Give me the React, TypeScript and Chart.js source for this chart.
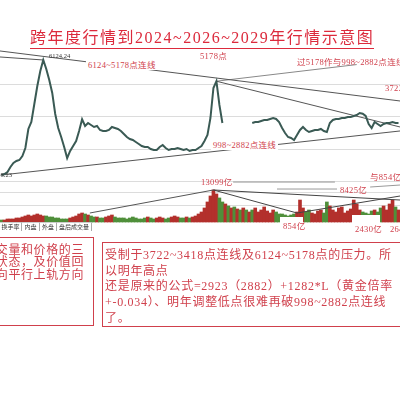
import React, { useEffect, useRef } from 'react';
import { Chart, registerables } from 'chart.js';
Chart.register(...registerables);

// Shanghai composite closes, one per period (null = gap in the picture)
const closes: (number | null)[] = [
  998, 1043, 1132, 1355, 1533, 1622, 1667, 1845, 2202, 3049,
  3361, 4163, 4966, 5634, 6124, 5723, 5233, 4654, 3717, 3093,
  2692, 2246, 1750, 2068, 2291, 2514, 2960, 3478, 3182, 3316,
  3227, 3138, 3182, 3004, 2960, 2960, 3004, 3138, 3093, 3049,
  2960, 2826, 2692, 2603, 2558, 2469, 2380, 2291, 2246, 2246,
  2157, 2113, 2113, 2246, 2335, 2202, 2113, 2157, 2157, 2202,
  2157, 2113, 2157, 2068, 2113, 2113, 2202, 2291, 2514, 2781,
  3539, 4876, 5178, 4119, 3316, null, null, null, null, null,
  null, null, null, null, 3316, 3361, 3361, 3405, 3450, 3450,
  3494, 3539, 3494, 3361, 3093, 2870, 2692, 2647, 2558, 2781,
  3004, 3138, 3004, 2915, 2960, 3004, 3004, 3049, 2960, 2915,
  3316, 3450, 3494, 3494, 3539, 3539, 3584, 3584, 3628, 3673,
  3762, 3731, 3628, 3271, 3093, 3361, 3271, 3182, 3271, 3316,
  3316, 3361, 3316, 3316,
];

// turnover (亿) per period
const volumes: number[] = [
  820, 820, 1230, 1230, 1230, 1640, 1640, 2050, 2460, 2870,
  2460, 2870, 3280, 2870, 2460, 2460, 2050, 2050, 1640, 1640,
  1230, 1230, 1230, 1640, 2050, 2460, 3280, 3690, 3280, 2870,
  2460, 2050, 2050, 1640, 1640, 2050, 2460, 2870, 2050, 1640,
  1640, 1640, 1230, 1640, 2050, 1640, 1230, 1230, 1640, 2050,
  1640, 1230, 1640, 2050, 1640, 1230, 1640, 2050, 2460, 2050,
  1640, 1640, 2050, 1640, 2050, 2460, 3280, 4100, 5740, 8200,
  10660, 13099, 11480, 9840, 8200, 7380, 6560, 5740, 6150, 5330,
  4920, 5740, 4920, 4100, 4920, 5740, 4100, 4920, 6150, 4510,
  3690, 4920, 4100, 3280, 3280, 2870, 2460, 2870, 3280, 4100,
  9000, 5740, 4100, 4920, 3690, 3280, 4510, 4920, 3690, 8200,
  6560, 4920, 4100, 5740, 6150, 3690, 4510, 5330, 9000, 7380,
  4920, 4100, 3690, 3280, 4510, 4920, 4100, 5740, 6560, 4920,
  7380, 9000, 6150, 4920,
];

const periods = closes.map((_, i) => i);
const priceGridLevels = [700, 2150, 3600, 5050];
const volumeGridLevels = [6950, 12270];

// trend lines: [period, value] pairs
const line6124to5178 = [[-0.5, 6526], [133.5, 4297]];
const lineInto6124 = [[-0.5, 6258], [14, 6124]];
const line5178to3731 = [[72, 5178], [133.5, 3138]];
const parallelThrough5178 = [[72, 5178], [119, 5920]];
const line998to2882 = [[0, 998], [133.5, 2960]];
const volLineIntoPeak = [[29.6, 3681], [71, 13099]];
const volLinePeakRight = [[71, 13099], [133.5, 9000]];
const volLinePeakTo854 = [[71, 13099], [99, 3681]];
const volLine854Right = [[99, 3681], [133.5, 10634]];
const volLeader13099 = [[77.6, 16360], [111.7, 16360]];
const volLeader8425 = [[92.3, 13500], [112.4, 13500]];
const volLeader854 = [[123.5, 14316], [133.5, 15134]];
const volLeader2430 = [[122.8, -1227], [125.8, 2863]];

const RED = '#d0404c';
const FONT = '"Liberation Serif", "Noto Sans CJK SC", serif';

const seg = (pts: number[][], axis: string, color = '#555', width = 1) => ({
  type: 'line' as const,
  data: pts.map(([x, y]) => ({ x, y })),
  yAxisID: axis,
  borderColor: color,
  borderWidth: width,
  pointRadius: 0,
  order: 1,
});

function Label(props: { x: number; y: number; size?: number; color?: string; text: string; bg?: boolean; spacing?: number }) {
  const size = props.size ?? 8.5;
  return (
    <div
      style={{
        position: 'absolute',
        left: props.x,
        top: props.y - size / 2 - 1,
        fontSize: size,
        lineHeight: `${size + 2}px`,
        color: props.color ?? RED,
        whiteSpace: 'nowrap',
        fontFamily: FONT,
        letterSpacing: props.spacing ?? 0.3,
        background: props.bg ? '#fff' : 'transparent',
        padding: props.bg ? '0 2px' : 0,
        marginLeft: props.bg ? -2 : 0,
      }}
    >
      {props.text}
    </div>
  );
}

export default function App() {
  const ref = useRef<HTMLCanvasElement | null>(null);
  useEffect(() => {
    if (!ref.current) return;
    const volColors = volumes.map((_, i) => {
      const c = closes[i];
      const p = i > 0 ? closes[i - 1] : null;
      if (c == null || p == null) return i % 2 ? '#b3302c' : '#4f8f3a';
      return c >= p ? '#b3302c' : '#4f8f3a';
    });
    const zeroWidth = (s: any) => {
      s.width = 0;
    };
    const chart = new Chart(ref.current, {
      type: 'bar',
      data: {
        datasets: [
          {
            type: 'line',
            data: periods.map((i) => ({ x: i, y: closes[i] })),
            yAxisID: 'y',
            borderColor: '#3a5a54',
            borderWidth: 2,
            pointRadius: 0,
            spanGaps: false,
            order: 0,
          } as any,
          seg(line6124to5178, 'y', '#555'),
          seg(lineInto6124, 'y', '#555'),
          seg(line5178to3731, 'y', '#555'),
          seg(parallelThrough5178, 'y', '#888'),
          seg(line998to2882, 'y', '#555'),
          seg(volLineIntoPeak, 'yv', '#555'),
          seg(volLinePeakRight, 'yv', '#444'),
          seg(volLinePeakTo854, 'yv', '#444'),
          seg(volLine854Right, 'yv', '#444'),
          seg(volLeader13099, 'yv', '#999'),
          seg(volLeader8425, 'yv', '#999'),
          seg(volLeader854, 'yv', '#999'),
          seg(volLeader2430, 'yv', '#666'),
          {
            type: 'bar',
            data: periods.map((i) => ({ x: i, y: volumes[i] })),
            yAxisID: 'yv',
            backgroundColor: volColors,
            barPercentage: 1,
            categoryPercentage: 1,
            order: 3,
          } as any,
        ],
      },
      options: {
        animation: false,
        responsive: false,
        maintainAspectRatio: false,
        layout: { padding: 0, autoPadding: false },
        plugins: { legend: { display: false }, tooltip: { enabled: false } },
        scales: {
          x: { type: 'linear', min: -0.5, max: 133.5, offset: false, display: false },
          y: {
            min: -9032,
            max: 8798,
            position: 'left',
            ticks: { display: false },
            grid: { color: '#dcdcdc', drawTicks: false },
            border: { display: false },
            afterFit: zeroWidth,
            afterBuildTicks: (s: any) => {
              s.ticks = priceGridLevels.map((value) => ({ value }));
            },
          },
          yv: {
            min: -72863,
            max: 90874,
            position: 'left',
            ticks: { display: false },
            grid: { color: '#dcdcdc', drawTicks: false },
            border: { display: false },
            afterFit: zeroWidth,
            afterBuildTicks: (s: any) => {
              s.ticks = volumeGridLevels.map((value) => ({ value }));
            },
          },
        },
      } as any,
    });
    return () => chart.destroy();
  }, []);

  const tabs = [
    { t: '换手率', x: 0, w: 22 },
    { t: '内盘', x: 22, w: 18 },
    { t: '外盘', x: 40, w: 17 },
    { t: '盘后成交量', x: 57, w: 35 },
  ];
  const leftRows = ['成交量和价格的三', '种状态，及价值回', '归向平行上轨方向'];
  const rightRows = [
    '受制于3722~3418点连线及6124~5178点的压力。所',
    '以明年高点',
    '还是原来的公式=2923（2882）+1282*L（黄金倍率',
    '+-0.034）、明年调整低点很难再破998~2882点连线',
    '了。',
  ];
  const rightCenters = [255, 270.5, 286, 302, 318];

  return (
    <div style={{ position: 'absolute', left: 0, top: 0, width: 400, height: 400, overflow: 'hidden', background: '#fff' }}>
      <canvas ref={ref} width={400} height={400} style={{ position: 'absolute', left: 0, top: 0, width: 400, height: 400 }} />
      <div
        style={{
          position: 'absolute',
          left: 30,
          top: 29,
          fontSize: 16,
          lineHeight: '18px',
          letterSpacing: 1.5,
          color: '#dc2a3c',
          fontFamily: FONT,
          whiteSpace: 'nowrap',
          borderBottom: '1.5px solid #dc2a3c',
          paddingBottom: 1,
        }}
      >
        跨年度行情到2024~2026~2029年行情示意图
      </div>

      <Label x={49} y={56} size={6.5} color="#333" text="6124.24" spacing={0} />
      <Label x={-6} y={175} size={6.5} color="#333" text="998.23" spacing={0} />
      <Label x={88} y={65} text="6124~5178点连线" bg />
      <Label x={200} y={56} text="5178点" />
      <Label x={297} y={62} text="过5178作与998~2882点连线平行线" />
      <Label x={385} y={88} text="3722~3418点连线" />
      <Label x={213} y={145} text="998~2882点连线" bg />
      <Label x={201} y={182} text="13099亿" />
      <Label x={340} y={190} text="8425亿" />
      <Label x={370} y={177} text="与854亿" />
      <div style={{ position: 'absolute', left: 280, top: 217, width: 23, height: 16, background: '#fff' }} />
      <div style={{ position: 'absolute', left: 352, top: 215, width: 28, height: 19, background: '#fff' }} />
      <Label x={283} y={226} text="854亿" />
      <Label x={355} y={229} text="2430亿" />
      <Label x={390} y={229} text="2640亿" />

      {tabs.map((tb) => (
        <div
          key={tb.t}
          style={{
            position: 'absolute',
            left: tb.x,
            top: 222,
            width: tb.w - 1,
            height: 8,
            borderRight: '1px solid #aaa',
            borderTop: '1px solid #ccc',
            fontSize: 6,
            lineHeight: '8px',
            textAlign: 'center',
            color: '#333',
            fontFamily: '"Noto Sans CJK SC", sans-serif',
            whiteSpace: 'nowrap',
          }}
        >
          {tb.t}
        </div>
      ))}

      <div style={{ position: 'absolute', left: -4, top: 237, width: 96, height: 87, border: `1.5px solid ${RED}` }} />
      {leftRows.map((r, i) => (
        <div
          key={r}
          style={{
            position: 'absolute',
            right: 400 - 84,
            top: 250 + i * 12.5 - 6.5,
            fontSize: 12,
            lineHeight: '13px',
            letterSpacing: 0.6,
            color: RED,
            fontFamily: FONT,
            whiteSpace: 'nowrap',
          }}
        >
          {r}
        </div>
      ))}

      <div style={{ position: 'absolute', left: 102, top: 242, width: 320, height: 83, border: `1.5px solid ${RED}` }} />
      {rightRows.map((r, i) => (
        <div
          key={r}
          style={{
            position: 'absolute',
            left: 105,
            top: rightCenters[i] - 7,
            fontSize: 12,
            lineHeight: '14px',
            letterSpacing: 0.7,
            color: RED,
            fontFamily: FONT,
            whiteSpace: 'nowrap',
          }}
        >
          {r}
        </div>
      ))}
    </div>
  );
}
